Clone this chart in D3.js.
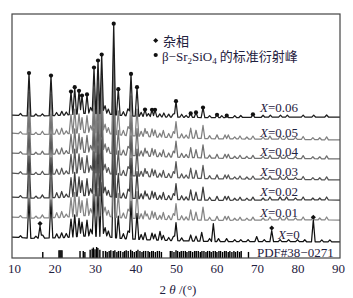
<!DOCTYPE html>
<html lang="zh">
<head>
  <meta charset="UTF-8">
  <script src="https://cdn.jsdelivr.net/npm/d3@7"></script>
  <title>XRD</title>
  <style>
    body { margin: 0; background: #fff; }
    svg { display: block; }
  </style>
</head>
<body>
<svg width="353" height="298" id="xrd"></svg>
<script>
  // 2θ tick labels
  const xTicks = [10, 20, 30, 40, 50, 60, 70, 80, 90];

  // sample names, bottom to top
  const sampleX = ["0", "0.01", "0.02", "0.03", "0.04", "0.05", "0.06"];
  // background level of each pattern at the low- and high-angle ends (a.u.)
  const levelsLeft = [21, 41, 61, 85, 105, 125, 143];
  const levelsRight = [16, 38, 58, 78, 99, 118, 141];
  // shared background hump [2θ, a.u.]
  const bgShape = [[9.5, 0], [14, -1], [22, 0], [27, 2], [32, 2], [37, 0], [45, -1], [60, -1.5], [75, -0.5], [90.5, 0]];

  // peaks [2θ, height] for X = 0.06
  const peaks006 = [[11.6, 2], [13.7, 43], [15.4, 2], [17.0, 2], [19.13, 40], [20.5, 3], [21.8, 4], [22.9, 3],
    [24.07, 23], [24.99, 27], [26.05, 23], [26.79, 18], [28.02, 19], [28.9, 6], [29.75, 46], [30.74, 53],
    [31.65, 59], [32.5, 8], [33.3, 5], [34.62, 91], [35.75, 26], [37.0, 4], [38.1, 7], [38.89, 42],
    [40.37, 29], [41.4, 4], [42.35, 7], [43.2, 3], [44.08, 7], [44.82, 7], [46.0, 3], [47.0, 4], [48.2, 3],
    [49.3, 3], [50.0, 16], [51.4, 3], [52.5, 2], [53.63, 4], [54.94, 5], [56.67, 10], [58.3, 2], [60.13, 3],
    [61.3, 2], [62.53, 2], [64.5, 2], [66.0, 2], [69.0, 3], [71.5, 2], [73.3, 2], [75.8, 2], [77.5, 2],
    [81.4, 2], [84.0, 2], [87.2, 2]];

  // peaks [2θ, height] for X = 0.01 ... 0.05 (they look alike)
  const peaksDoped = [[11.6, 2], [13.7, 42], [15.4, 2], [17.0, 3], [19.13, 40], [20.54, 5], [21.77, 6], [22.9, 3],
    [24.07, 19], [24.99, 24], [26.05, 19], [26.79, 15], [28.02, 17], [28.9, 7], [29.75, 44], [30.74, 50],
    [31.65, 56], [32.5, 9], [33.3, 6], [34.62, 86], [35.75, 24], [37.0, 5], [38.15, 9], [38.89, 40],
    [40.37, 27], [41.4, 5], [42.35, 8], [42.9, 5], [44.08, 8], [44.82, 7], [46.0, 4], [46.87, 7], [48.2, 4],
    [49.34, 6], [50.0, 16], [51.4, 4], [52.5, 3], [53.63, 10], [54.94, 8], [56.67, 13], [58.3, 3], [60.13, 4],
    [62.1, 4], [62.92, 4], [64.5, 2], [65.8, 3], [67.5, 2], [69.0, 3], [71.5, 2], [73.2, 3], [75.7, 3],
    [77.3, 3], [79.5, 2], [81.4, 3], [83.8, 2], [85.5, 2], [87.2, 3]];

  // peaks [2θ, height] for X = 0
  const peaks000 = [[11.6, 2], [13.7, 40], [15.4, 2], [16.42, 12], [17.1, 3], [19.13, 38], [20.54, 4], [21.77, 5],
    [22.9, 4], [24.07, 18], [24.99, 22], [26.05, 18], [26.79, 14], [28.02, 16], [28.9, 7], [29.75, 42],
    [30.74, 48], [31.65, 54], [32.5, 9], [33.3, 6], [34.62, 82], [35.75, 22], [37.0, 5], [38.15, 8],
    [38.89, 38], [40.37, 26], [41.4, 5], [42.35, 7], [44.08, 7], [44.82, 6], [46.05, 9], [46.87, 5],
    [48.2, 3], [49.34, 4], [50.0, 18], [51.4, 3], [53.63, 6], [54.94, 5], [56.35, 9], [58.3, 3], [59.22, 18],
    [60.5, 3], [62.5, 3], [64.5, 2], [66.0, 2], [67.8, 2], [69.93, 5], [71.8, 2], [73.64, 11], [75.7, 2],
    [77.8, 2], [80.0, 2], [81.8, 2], [83.91, 22], [86.0, 2], [88.0, 2]];

  // β-Sr2SiO4 peaks marked on the X = 0.06 pattern
  const betaMarks = [13.7, 19.13, 24.07, 24.99, 26.05, 26.79, 28.02, 29.75, 30.74, 31.65, 34.62, 35.75, 38.89,
    40.37, 42.35, 44.08, 44.82, 50.0, 53.63, 54.94, 56.67, 60.13, 62.53, 69.0];
  // impurity peaks marked on the X = 0 pattern
  const impurityMarks = [16.42, 73.64, 83.91];

  // PDF#38-0271 stick pattern [2θ, relative intensity]
  const pdfSticks = [[17.1, 55], [21.1, 70], [21.35, 70], [21.6, 70], [21.85, 70], [26.3, 64], [27.1, 64], [27.5, 55],
    [28.8, 75], [29.3, 85], [29.6, 95], [30.0, 80], [30.4, 100], [30.7, 90], [31.2, 75],
    [32.0, 64], [32.6, 64], [33.0, 55], [33.5, 64], [33.9, 70], [34.5, 64], [34.9, 70], [35.4, 55], [35.8, 64],
    [36.3, 64], [36.9, 55], [37.3, 64], [37.7, 70], [38.2, 64], [38.8, 75], [39.2, 64], [39.7, 55], [40.2, 64],
    [40.6, 75], [41.1, 64], [41.6, 55], [42.0, 64], [42.5, 64], [43.1, 64], [43.5, 55], [44.0, 64], [44.4, 64],
    [44.9, 55], [45.4, 64], [45.9, 64], [46.4, 55],
    [48.6, 64], [49.0, 64], [49.5, 55], [50.0, 70], [50.4, 64], [50.9, 55], [51.3, 64], [51.8, 64], [52.3, 64],
    [52.7, 55], [53.2, 64], [53.6, 64], [54.1, 55], [54.6, 64], [55.0, 64], [55.5, 64], [56.0, 55], [56.4, 64],
    [56.9, 64], [57.4, 55], [57.8, 64], [58.3, 64], [58.7, 55], [59.2, 64], [59.7, 64], [60.1, 55], [60.6, 64],
    [61.0, 64], [61.5, 55], [62.0, 64], [62.4, 64], [62.9, 55], [63.3, 64], [63.8, 55], [64.3, 64], [64.7, 55],
    [65.2, 64], [65.7, 55], [66.1, 64], [67.9, 55]];

  const serif = "'Liberation Serif', 'Times New Roman', serif";
  const cjk = "'Noto Sans CJK SC', sans-serif";
  const ink = "#1f2140";

  let svg = d3.select("#xrd");

  /* SCALES */
  const x = d3.scaleLinear().domain([9.5, 90.5]).range([12, 340]);
  const y = d3.scaleLinear().domain([0, 244]).range([258, 14]);
  const stickY = d3.scaleLinear().domain([0, 100]).range([258, 247]);
  const hump = d3.scaleLinear().domain(bgShape.map(d => d[0])).range(bgShape.map(d => d[1]));

  // background of pattern i at angle t
  function baseFn(i) {
    const tilt = d3.scaleLinear().domain([9.5, 90.5]).range([levelsLeft[i], levelsRight[i]]);
    return t => tilt(t) + hump(t);
  }

  // pattern as a polyline: background, then each peak as a sharp spike
  const halfW = 0.45;
  function tracePoints(peaks, base) {
    const pts = [[9.5, base(9.5)]];
    peaks.forEach((p, i) => {
      const prev = peaks[i - 1], next = peaks[i + 1];
      if (!prev || p[0] - prev[0] >= 2 * halfW) {
        pts.push([p[0] - halfW, base(p[0] - halfW)]);
      } else {
        const m = (prev[0] + p[0]) / 2;
        const v = Math.max(0, prev[1] * (1 - (m - prev[0]) / halfW), p[1] * (1 - (p[0] - m) / halfW));
        pts.push([m, base(m) + v]);
      }
      pts.push([p[0], base(p[0]) + p[1]]);
      if (!next || next[0] - p[0] >= 2 * halfW) pts.push([p[0] + halfW, base(p[0] + halfW)]);
    });
    pts.push([90.5, base(90.5)]);
    return pts;
  }

  const line = d3.line().x(d => x(d[0])).y(d => y(d[1]));

  const peakSets = [peaks000, peaksDoped, peaksDoped, peaksDoped, peaksDoped, peaksDoped, peaks006];
  const colors = ["#111", "#858585", "#3c3c3c", "#565656", "#707070", "#808080", "#1c1c1c"];

  svg.append("clipPath").attr("id", "plotclip")
    .append("rect").attr("x", 12).attr("y", 14).attr("width", 328).attr("height", 244);

  /* PDF STICKS */
  svg.append("g").selectAll("line")
    .data(pdfSticks)
    .join("line")
    .attr("x1", d => x(d[0])).attr("x2", d => x(d[0]))
    .attr("y1", stickY(0)).attr("y2", d => stickY(d[1]))
    .attr("stroke", "#000").attr("stroke-width", 1.4);

  svg.append("text")
    .attr("x", 257).attr("y", 257)
    .attr("font-family", serif).attr("font-size", 13).attr("fill", ink)
    .text("PDF#38\u22120271");

  /* PATTERNS */
  const traces = svg.append("g").attr("clip-path", "url(#plotclip)");
  sampleX.forEach((s, i) => {
    traces.append("path")
      .attr("d", line(tracePoints(peakSets[i], baseFn(i))))
      .attr("fill", "none")
      .attr("stroke", colors[i])
      .attr("stroke-width", 1.25)
      .attr("stroke-linejoin", "round");
  });

  // dots on the β-Sr2SiO4 peaks of X = 0.06
  const topIdx = sampleX.length - 1;
  const topBase = baseFn(topIdx);
  svg.append("g").selectAll("circle")
    .data(betaMarks)
    .join("circle")
    .attr("cx", d => x(d))
    .attr("cy", d => {
      const pk = peaks006.find(p => p[0] === d);
      return y(topBase(d) + (pk ? pk[1] : 0));
    })
    .attr("r", 2.1)
    .attr("fill", "#111");

  // diamonds on impurity peaks of X = 0
  const diamond = d3.symbol().type(d3.symbolSquare).size(13);
  const zeroBase = baseFn(0);
  svg.append("g").selectAll("path")
    .data(impurityMarks)
    .join("path")
    .attr("d", diamond)
    .attr("transform", d => {
      const pk = peaks000.find(p => p[0] === d);
      return `translate(${x(d)},${y(zeroBase(d) + pk[1]) - 2.5}) rotate(45)`;
    })
    .attr("fill", "#111");

  /* SAMPLE LABELS */
  const labelX = [278, 260, 260, 260, 260, 260, 260];
  const labelY = [238.5, 217, 195.5, 175.5, 156, 137, 112];
  sampleX.forEach((s, i) => {
    const t = svg.append("text")
      .attr("x", labelX[i]).attr("y", labelY[i])
      .attr("font-family", serif).attr("font-size", 13).attr("fill", ink);
    t.append("tspan").attr("font-style", "italic").text("X");
    t.append("tspan").text("=" + s);
  });

  /* LEGEND */
  svg.append("path").attr("d", diamond)
    .attr("transform", "translate(155.7,40.5) rotate(45)").attr("fill", "#111");
  svg.append("circle").attr("cx", 155.7).attr("cy", 55).attr("r", 2.1).attr("fill", "#111");

  svg.append("text")
    .attr("x", 163).attr("y", 45.5)
    .attr("font-family", cjk).attr("font-size", 13).attr("fill", ink)
    .text("杂相");

  let leg = svg.append("text")
    .attr("x", 162).attr("y", 60.5)
    .attr("font-family", serif).attr("font-size", 13).attr("fill", ink);
  leg.append("tspan").text("\u03b2\u2212Sr");
  leg.append("tspan").attr("font-size", 9).attr("dy", 3).text("2");
  leg.append("tspan").attr("dy", -3).text("SiO");
  leg.append("tspan").attr("font-size", 9).attr("dy", 3).text("4");
  leg.append("tspan").attr("dy", -3).attr("dx", 3).attr("font-family", cjk).text("的标准衍射峰");

  /* AXIS */
  let axisX = d3.axisBottom(x).tickValues(xTicks).tickSize(0).tickPadding(6);
  let gx = svg.append("g").attr("transform", "translate(0,258)").call(axisX);
  gx.select(".domain").remove();
  gx.selectAll("text")
    .attr("font-family", serif).attr("font-size", 13).attr("fill", ink);

  svg.append("rect")
    .attr("x", 12).attr("y", 14).attr("width", 328).attr("height", 244)
    .attr("fill", "none").attr("stroke", "#444").attr("stroke-width", 1.2);

  let title = svg.append("text")
    .attr("x", 178).attr("y", 294)
    .attr("text-anchor", "middle")
    .attr("font-family", serif).attr("font-size", 13).attr("fill", ink);
  title.append("tspan").text("2 ");
  title.append("tspan").attr("font-style", "italic").text("\u03b8");
  title.append("tspan").text(" /(\u00b0)");
</script>
</body>
</html>
